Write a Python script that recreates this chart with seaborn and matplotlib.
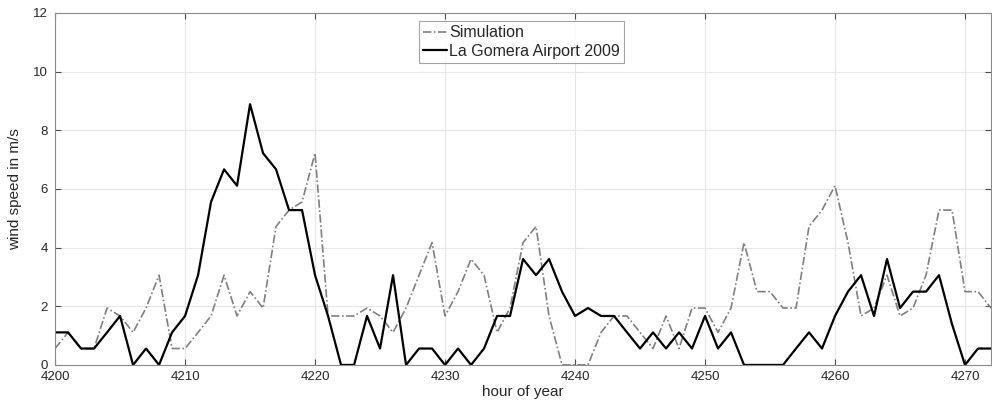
import numpy as np
import pandas as pd
import matplotlib
matplotlib.use("Agg")
import matplotlib.pyplot as plt
import seaborn as sns

sns.set_style("ticks")
plt.rcParams['font.family'] = ['Liberation Sans', 'DejaVu Sans']

hours = list(range(4200, 4273))

simulation = [0.56, 1.11, 0.56, 0.56, 1.94, 1.67, 1.11, 1.94, 3.06, 0.56,
              0.56, 1.11, 1.67, 3.06, 1.67, 2.5, 1.94, 4.72, 5.28, 5.56,
              7.22, 1.67, 1.67, 1.67, 1.94, 1.67, 1.11, 1.94, 3.06, 4.17,
              1.67, 2.5, 3.61, 3.06, 1.11, 1.94, 4.17, 4.72, 1.67, 0.0,
              0.0, 0.0, 1.11, 1.67, 1.67, 1.11, 0.56, 1.67, 0.56, 1.94,
              1.94, 1.11, 1.94, 4.17, 2.5, 2.5, 1.94, 1.94, 4.72, 5.28,
              6.11, 4.17, 1.67, 1.94, 3.06, 1.67, 1.94, 3.06, 5.28, 5.28,
              2.5, 2.5, 1.94]

measured = [1.11, 1.11, 0.56, 0.56, 1.11, 1.67, 0.0, 0.56, 0.0, 1.11,
            1.67, 3.06, 5.56, 6.67, 6.11, 8.89, 7.22, 6.67, 5.28, 5.28,
            3.06, 1.67, 0.0, 0.0, 1.67, 0.56, 3.06, 0.0, 0.56, 0.56,
            0.0, 0.56, 0.0, 0.56, 1.67, 1.67, 3.61, 3.06, 3.61, 2.5,
            1.67, 1.94, 1.67, 1.67, 1.11, 0.56, 1.11, 0.56, 1.11, 0.56,
            1.67, 0.56, 1.11, 0.0, 0.0, 0.0, 0.0, 0.56, 1.11, 0.56,
            1.67, 2.5, 3.06, 1.67, 3.61, 1.94, 2.5, 2.5, 3.06, 1.39,
            0.0, 0.56, 0.56]

df = pd.DataFrame({"hour": hours, "Simulation": simulation,
                   "La Gomera Airport 2009": measured})

fig = plt.figure(figsize=(9.92, 4.19), dpi=100)
ax = fig.add_axes([0.0555, 0.129, 0.9435, 0.84])

sns.lineplot(data=df, x="hour", y="Simulation", ax=ax, color="#7f7f7f",
             linewidth=1.2, label="Simulation")
ax.lines[-1].set_dashes([5, 1.5, 1, 1.5])
sns.lineplot(data=df, x="hour", y="La Gomera Airport 2009", ax=ax,
             color="black", linewidth=1.6, label="La Gomera Airport 2009")

ax.set_xlim(4200, 4272)
ax.set_ylim(0, 12)
ax.set_xticks(range(4200, 4271, 10))
ax.set_yticks(range(0, 13, 2))
ax.grid(True, color="#e6e6e6", linewidth=0.8)
ax.set_axisbelow(True)
ax.tick_params(direction="in", top=True, right=True, length=4,
               color="#4d4d4d", labelsize=9.5, labelcolor="#262626")
ax.tick_params(axis="x", pad=4)
ax.tick_params(axis="y", pad=5)
for s in ax.spines.values():
    s.set_color("#8c8c8c")
    s.set_linewidth(0.8)

ax.set_xlabel("hour of year", fontsize=11, color="#262626", labelpad=2)
ax.set_ylabel("wind speed in m/s", fontsize=11, color="#262626", labelpad=8)

leg = ax.legend(loc="upper left", bbox_to_anchor=(0.389, 0.976), fontsize=11.5,
                frameon=True, fancybox=False, borderpad=0.25, handlelength=1.5,
                handletextpad=0.15, labelspacing=0.2, borderaxespad=0)
leg.get_frame().set_edgecolor("#8c8c8c")
leg.get_frame().set_linewidth(0.8)

fig.savefig("out.png", dpi=100)
